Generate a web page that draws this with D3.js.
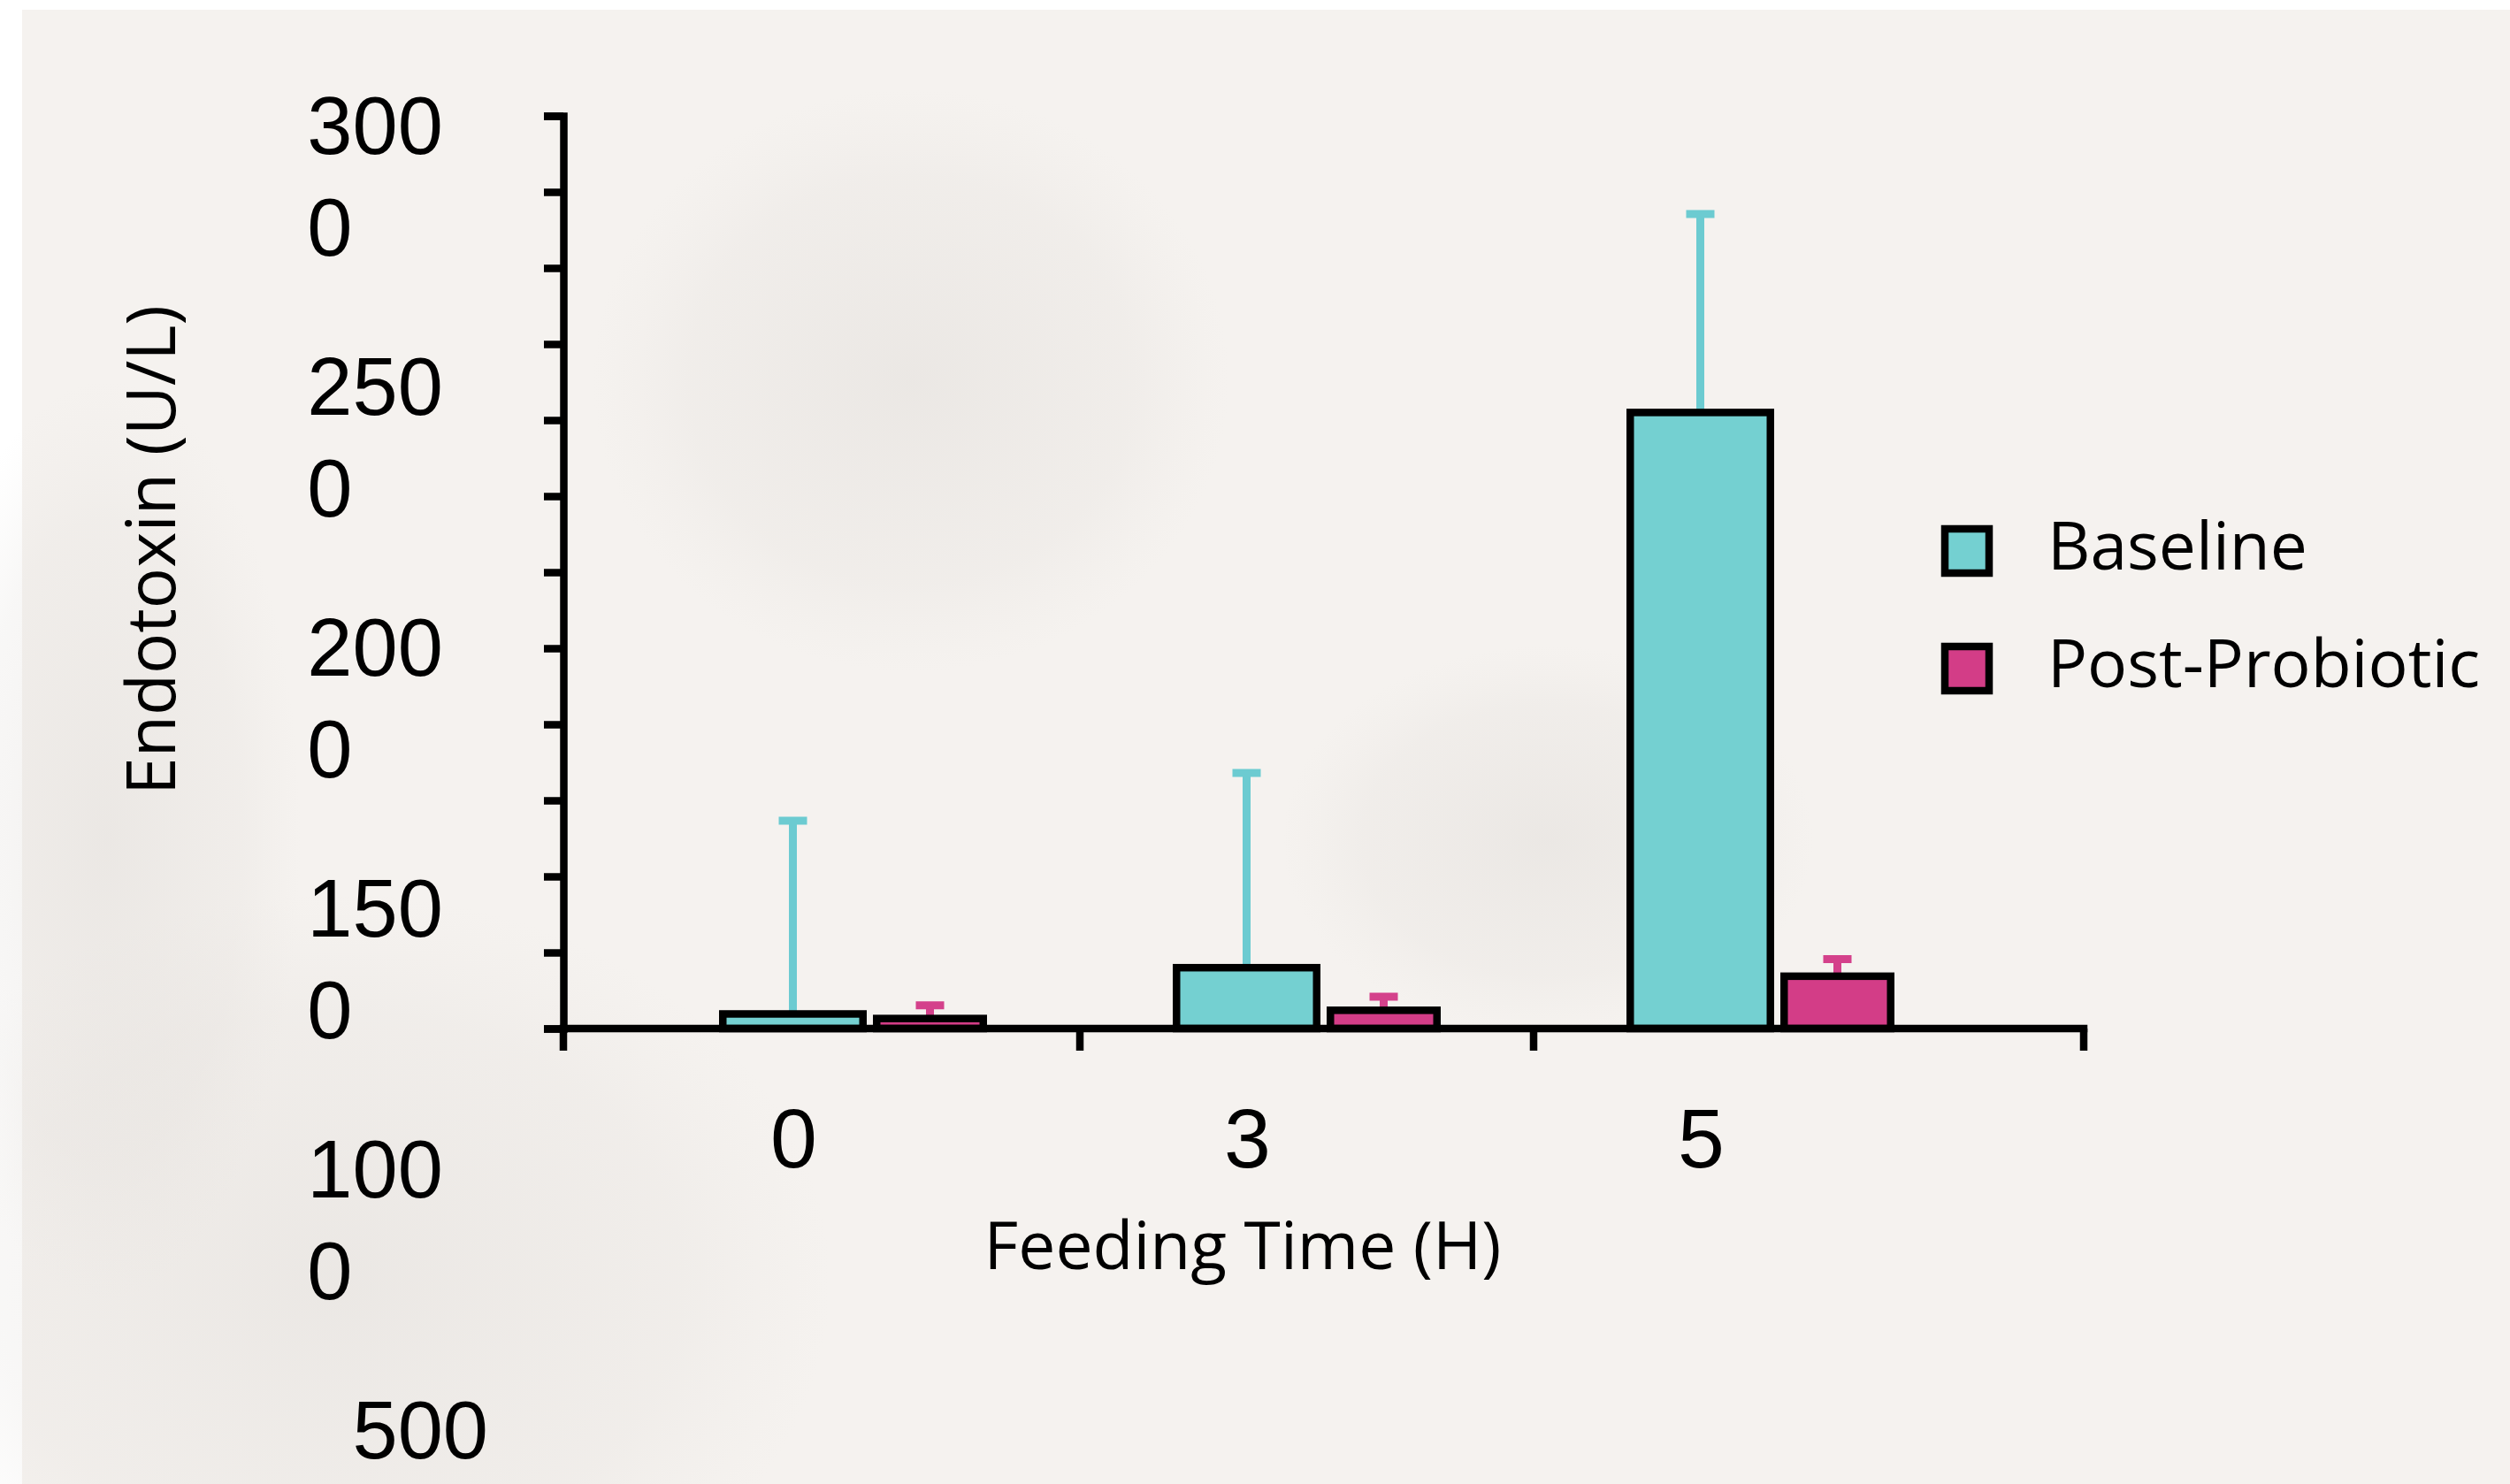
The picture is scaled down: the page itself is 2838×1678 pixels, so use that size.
<!DOCTYPE html>
<html>
<head>
<meta charset="utf-8">
<script src="https://cdn.jsdelivr.net/npm/d3@7"></script>
<style>
  body { margin: 0; background: #fff; }
  svg { display: block; }
</style>
</head>
<body>
<div id="chart"></div>
<script>
// data
const CATEGORIES = ["0", "3", "5"];
const SERIES = ["Baseline", "Post-Probiotic"];
const BASELINE_MEANS = [48, 200, 2025];
const BASELINE_ERRORS = [635, 640, 652];
const POST_MEANS = [33, 60, 172];
const POST_ERRORS = [43, 45, 56];
const Y_TICK_VALUES = d3.range(0, 3001, 250);
const Y_TICK_LABELS = ["3000", "2500", "2000", "1500", "1000", "500"];

const COLORS = { "Baseline": "#74d0d1", "Post-Probiotic": "#d33d87" };
const ERROR_COLORS = { "Baseline": "#6ccbd1", "Post-Probiotic": "#d4418b" };
const BAR_WIDTHS = { "Baseline": 167, "Post-Probiotic": 129 };

const WIDTH = 2838;
const HEIGHT = 1678;
const STROKE = 8.5;
const NUM_FONT = "'Liberation Sans', Arial, sans-serif";
const TEXT_FONT = "'Open Sans', 'DejaVu Sans', sans-serif";

const rows = CATEGORIES.map((c, i) => ({
  cat: c,
  "Baseline": { mean: BASELINE_MEANS[i], err: BASELINE_ERRORS[i] },
  "Post-Probiotic": { mean: POST_MEANS[i], err: POST_ERRORS[i] },
}));

const svg = d3.select("#chart").append("svg")
  .attr("width", WIDTH)
  .attr("height", HEIGHT);

// slide background (faint cell picture)
const defs = svg.append("defs");
const blob = defs.append("radialGradient").attr("id", "blob");
blob.append("stop").attr("offset", "0%").attr("stop-color", "#dcd8d4").attr("stop-opacity", 0.4);
blob.append("stop").attr("offset", "70%").attr("stop-color", "#e0dcd8").attr("stop-opacity", 0.22);
blob.append("stop").attr("offset", "100%").attr("stop-color", "#e6e2de").attr("stop-opacity", 0);

svg.append("rect").attr("width", WIDTH).attr("height", HEIGHT).attr("fill", "#ffffff");
svg.append("rect")
  .attr("x", 25).attr("y", 11)
  .attr("width", WIDTH - 25).attr("height", HEIGHT - 11)
  .attr("fill", "#f5f2ef");

const bg = svg.append("g").attr("class", "background");
[
  { cx: 1030, cy: 430, rx: 360, ry: 330 },
  { cx: 380, cy: 1450, rx: 560, ry: 440 },
  { cx: 120, cy: 950, rx: 220, ry: 520 },
  { cx: 1750, cy: 950, rx: 300, ry: 220 },
].forEach((b) => {
  bg.append("ellipse")
    .attr("cx", b.cx).attr("cy", b.cy)
    .attr("rx", b.rx).attr("ry", b.ry)
    .attr("fill", "url(#blob)");
});

// scales
const y = d3.scaleLinear().domain([0, 3000]).range([1163, 131]);
const x = d3.scaleBand().domain(CATEGORIES).range([708, 2247]);
const axisLeftX = 637;
const axisRightX = 2356;

// bars
function barLeft(series, cat) {
  const center = x(cat) + x.bandwidth() / 2;
  const groupWidth = BAR_WIDTHS["Baseline"] + BAR_WIDTHS["Post-Probiotic"] + 7;
  const start = center - groupWidth / 2;
  return series === "Baseline" ? start : start + BAR_WIDTHS["Baseline"] + 7;
}

const barsG = svg.append("g").attr("class", "bars");
SERIES.forEach((s) => {
  const g = barsG.append("g").attr("class", "series");

  // error bars (upper only)
  g.selectAll("line.stem")
    .data(rows)
    .join("line")
    .attr("class", "stem")
    .attr("x1", (d) => barLeft(s, d.cat) + BAR_WIDTHS[s] / 2)
    .attr("x2", (d) => barLeft(s, d.cat) + BAR_WIDTHS[s] / 2)
    .attr("y1", (d) => y(d[s].mean))
    .attr("y2", (d) => y(d[s].mean + d[s].err))
    .attr("stroke", ERROR_COLORS[s])
    .attr("stroke-width", 9);

  g.selectAll("line.cap")
    .data(rows)
    .join("line")
    .attr("class", "cap")
    .attr("x1", (d) => barLeft(s, d.cat) + BAR_WIDTHS[s] / 2 - 16)
    .attr("x2", (d) => barLeft(s, d.cat) + BAR_WIDTHS[s] / 2 + 16)
    .attr("y1", (d) => y(d[s].mean + d[s].err))
    .attr("y2", (d) => y(d[s].mean + d[s].err))
    .attr("stroke", ERROR_COLORS[s])
    .attr("stroke-width", 9);

  g.selectAll("rect")
    .data(rows)
    .join("rect")
    .attr("x", (d) => barLeft(s, d.cat) + STROKE / 2)
    .attr("y", (d) => y(d[s].mean))
    .attr("width", BAR_WIDTHS[s] - STROKE)
    .attr("height", (d) => y(0) - y(d[s].mean))
    .attr("fill", COLORS[s])
    .attr("stroke", "#000")
    .attr("stroke-width", STROKE);
});

// y axis (ticks only, labels laid out below)
const yAxisG = svg.append("g")
  .attr("transform", `translate(${axisLeftX},0)`)
  .call(d3.axisLeft(y).tickValues(Y_TICK_VALUES).tickSize(22).tickSizeOuter(22).tickFormat(""));
yAxisG.selectAll("path, line").attr("stroke", "#000").attr("stroke-width", STROKE);

// x axis
const xTickPositions = [axisLeftX, ...CATEGORIES.slice(1).map((c) => x(c)), axisRightX];
const xAxisG = svg.append("g").attr("class", "x-axis");
xAxisG.append("line")
  .attr("x1", axisLeftX - STROKE / 2).attr("x2", axisRightX + STROKE / 2)
  .attr("y1", y(0)).attr("y2", y(0))
  .attr("stroke", "#000").attr("stroke-width", STROKE);
xAxisG.selectAll("line.tick")
  .data(xTickPositions)
  .join("line")
  .attr("class", "tick")
  .attr("x1", (d) => d).attr("x2", (d) => d)
  .attr("y1", y(0)).attr("y2", y(0) + 25)
  .attr("stroke", "#000").attr("stroke-width", STROKE);

xAxisG.selectAll("text")
  .data(CATEGORIES)
  .join("text")
  .attr("x", (d) => x(d) + x.bandwidth() / 2 - 67)
  .attr("y", 1320)
  .attr("text-anchor", "middle")
  .attr("font-family", NUM_FONT)
  .attr("font-size", 95)
  .attr("fill", "#000")
  .text((d) => d);

// y tick labels: right-aligned in a narrow box, long ones wrap
const labelRight = 552;
const labelBox = 170;
const labelRow = d3.scalePoint().domain(Y_TICK_LABELS).range([174, 1649]);
const yLabelsG = svg.append("g")
  .attr("font-family", NUM_FONT)
  .attr("font-size", 92)
  .attr("fill", "#000");

Y_TICK_LABELS.forEach((label) => {
  const t = yLabelsG.append("text")
    .attr("x", labelRight)
    .attr("y", labelRow(label))
    .attr("text-anchor", "end")
    .text(label);
  const w = t.node().getComputedTextLength();
  if (w > labelBox) {
    const fit = Math.floor(labelBox / (w / label.length));
    const left = labelRight - w;
    t.text(null).attr("text-anchor", "start").attr("x", left);
    t.append("tspan").attr("x", left).text(label.slice(0, fit));
    t.append("tspan").attr("x", left).attr("dy", 115).text(label.slice(fit));
  }
});

// axis titles
svg.append("text")
  .attr("transform", "translate(198,622) rotate(-90)")
  .attr("text-anchor", "middle")
  .attr("font-family", TEXT_FONT)
  .attr("font-size", 77)
  .attr("fill", "#000")
  .text("Endotoxin (U/L)");

svg.append("text")
  .attr("x", 1405)
  .attr("y", 1435)
  .attr("text-anchor", "middle")
  .attr("font-family", TEXT_FONT)
  .attr("font-size", 75)
  .attr("fill", "#000")
  .text("Feeding Time (H)");

// legend
const legendG = svg.append("g").attr("transform", "translate(2199,598)");
SERIES.forEach((s, i) => {
  const g = legendG.append("g").attr("transform", `translate(0,${i * 133})`);
  g.append("rect")
    .attr("width", 50).attr("height", 50)
    .attr("fill", COLORS[s])
    .attr("stroke", "#000")
    .attr("stroke-width", STROKE);
  g.append("text")
    .attr("x", 116)
    .attr("y", 46)
    .attr("font-family", TEXT_FONT)
    .attr("font-size", 75)
    .attr("fill", "#000")
    .text(s);
});
</script>
</body>
</html>
